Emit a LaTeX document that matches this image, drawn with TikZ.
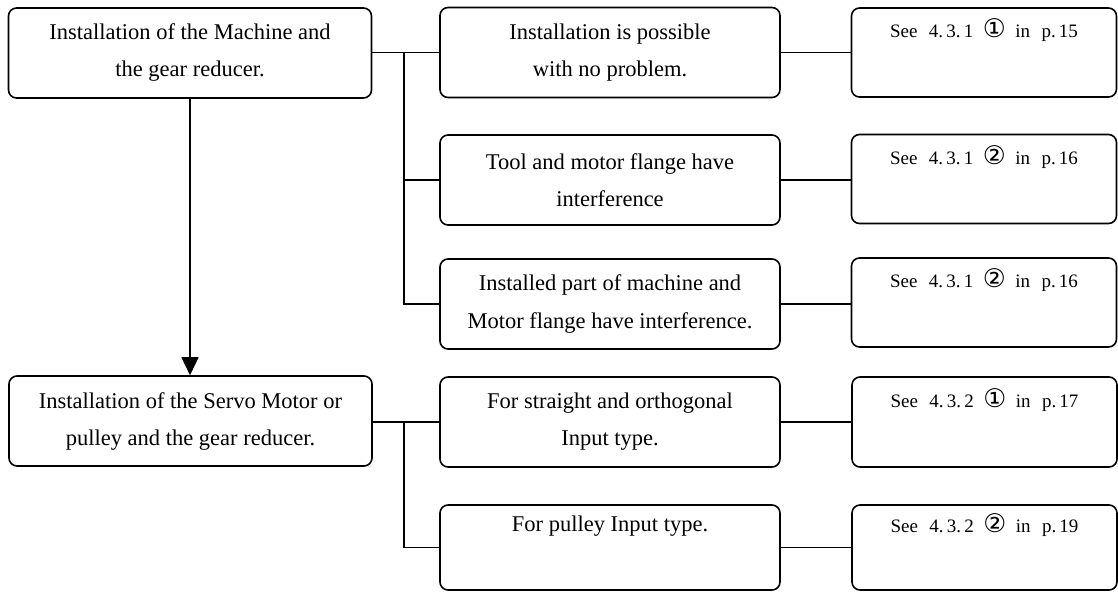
\documentclass[tikz,border=0pt]{standalone}
\usepackage{fontspec}
\setmainfont{Liberation Serif}
\newfontfamily\symfont[Scale=1.35]{DejaVu Sans}
\usetikzlibrary{arrows.meta}
\newcommand\seeref[4]{\fontsize{19}{37}\selectfont See\hspace{.6em}4.\hspace{.17em}#1.\hspace{.17em}#2\hspace{.5em}{\symfont #3}\hspace{.5em}in\hspace{.6em}p.\hspace{.17em}#4\\\strut}
\begin{document}
\begin{tikzpicture}[x=1pt,y=-1pt,
  boxbase/.style={draw, line width=1.6pt, rounded corners=8pt, inner sep=0pt, align=center,
    font=\fontsize{22.5}{37}\selectfont},
  lbox/.style={boxbase, minimum width=363pt, minimum height=90pt},
  mbox/.style={boxbase, minimum width=340pt, minimum height=90pt},
  rbox/.style={boxbase, minimum width=265pt, minimum height=89pt},
  conn/.style={line width=1.6pt},
  arr/.style={line width=1.6pt, -{Triangle[width=17pt,length=18pt]}}]
\useasboundingbox (0,0) rectangle (1118,592);
% left column
\node[lbox] (l1) at (190,53) {Installation of the Machine and\\the gear reducer.};
\node[lbox] (l2) at (190.5,421) {Installation of the Servo Motor or\\pulley and the gear reducer.};
% middle column
\node[mbox] (m1) at (610,52.5) {Installation is possible\\with no problem.};
\node[mbox] (m2) at (610,180) {Tool and motor flange have\\interference};
\node[mbox] (m3) at (610,304) {Installed part of machine and\\Motor flange have interference.};
\node[mbox] (m4) at (610,422) {For straight and orthogonal\\Input type.};
\node[mbox, minimum height=85pt] (m5) at (610,547.5) {For pulley Input type.\\\strut};
% right column
\node[rbox] (r1) at (984,52.5) {\seeref{3}{1}{①}{15}};
\node[rbox] (r2) at (984,179) {\seeref{3}{1}{②}{16}};
\node[rbox] (r3) at (984,302.5) {\seeref{3}{1}{②}{16}};
\node[rbox, minimum height=90pt] (r4) at (984.5,422) {\seeref{3}{2}{①}{17}};
\node[rbox, minimum height=85pt] (r5) at (984.5,547.5) {\seeref{3}{2}{②}{19}};
% bus coordinates
\coordinate (b1) at (404,52.5);
\coordinate (b3) at (404,304);
\coordinate (b4) at (404,422);
\coordinate (b5) at (404,547.5);
% connectors upper group
\draw[conn] (l1.east |- b1) -- (m1.west);
\draw[conn] (b1) -- (b3) -- (m3.west);
\draw[conn] (b1 |- m2.west) -- (m2.west);
% connectors lower group
\draw[conn] (l2.east |- b4) -- (m4.west);
\draw[conn] (b4) -- (b5) -- (m5.west);
% middle to right
\draw[conn] (m1.east) -- (r1.west |- m1.east);
\draw[conn] (m2.east) -- (r2.west |- m2.east);
\draw[conn] (m3.east) -- (r3.west |- m3.east);
\draw[conn] (m4.east) -- (r4.west |- m4.east);
\draw[conn] (m5.east) -- (r5.west |- m5.east);
% down arrow
\draw[arr] (l1.south) -- (l1.south |- l2.north);
\end{tikzpicture}
\end{document}
